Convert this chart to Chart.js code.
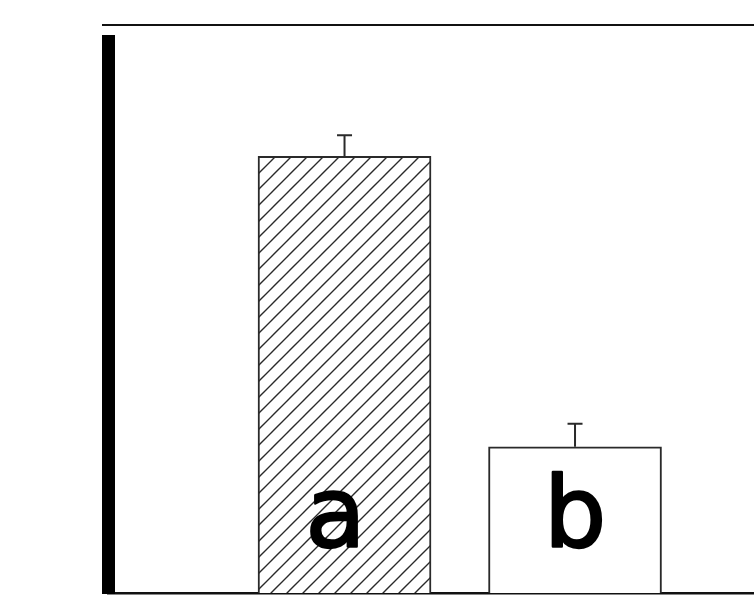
<!DOCTYPE html>
<html>
<head>
<meta charset="utf-8">
<script src="https://cdn.jsdelivr.net/npm/chart.js@4.4.0/dist/chart.umd.min.js"></script>
<style>
  html, body { margin: 0; padding: 0; background: #fff; }
  #wrap { width: 754px; height: 595px; position: relative; }
</style>
</head>
<body>
<div id="wrap"><canvas id="chart"></canvas></div>
<script>
// ================= DATA =================
const categories = ["a", "b"];
const positions = [1, 2];
const means = [79.2, 26.5];
const errors = [3.8, 4.2];

// ================= HATCH PATTERN =================
const mainCtx = document.getElementById("chart").getContext("2d");

function makeHatch(size) {
  const c = document.createElement("canvas");
  c.width = size;
  c.height = size;
  const g = c.getContext("2d");
  g.fillStyle = "#fff";
  g.fillRect(0, 0, size, size);
  g.strokeStyle = "#2a2a2a";
  g.lineWidth = 1.4;
  g.beginPath();
  g.moveTo(-1, size + 1); g.lineTo(size + 1, -1);
  g.moveTo(-size / 2 - 1, size / 2 + 1); g.lineTo(size / 2 + 1, -size / 2 - 1);
  g.moveTo(size / 2 - 1, size * 1.5 + 1); g.lineTo(size * 1.5 + 1, size / 2 - 1);
  g.stroke();
  return mainCtx.createPattern(c, "repeat");
}

const hatch = makeHatch(16);

// ================= PLUGINS =================
// top rule above the plot
const topRule = {
  id: "topRule",
  afterDraw(chart) {
    const { ctx, chartArea } = chart;
    ctx.save();
    ctx.strokeStyle = "#111";
    ctx.lineWidth = 2;
    ctx.beginPath();
    ctx.moveTo(chartArea.left - 6.5, chartArea.top - 16.5);
    ctx.lineTo(chart.width, chartArea.top - 16.5);
    ctx.stroke();
    ctx.restore();
  }
};

// error bars (upper only) + letters inside bars
const barExtras = {
  id: "barExtras",
  afterDatasetsDraw(chart) {
    const { ctx, chartArea } = chart;
    const yScale = chart.scales.y;
    const meta = chart.getDatasetMeta(0);
    ctx.save();
    meta.data.forEach((bar, i) => {
      const yTop = yScale.getPixelForValue(means[i] + errors[i]);
      ctx.strokeStyle = "#2a2a2a";
      ctx.lineWidth = 2;
      ctx.beginPath();
      ctx.moveTo(bar.x, bar.y);
      ctx.lineTo(bar.x, yTop);
      ctx.moveTo(bar.x - 7.5, yTop);
      ctx.lineTo(bar.x + 7.5, yTop);
      ctx.stroke();

      // letter, thickened a bit with a round stroke
      const tx = bar.x - (i === 0 ? 9 : 0);
      const ty = chartArea.bottom - 46;
      ctx.fillStyle = "#000";
      ctx.strokeStyle = "#000";
      ctx.lineWidth = 2.5;
      ctx.lineJoin = "round";
      ctx.font = '98px "DejaVu Sans"';
      ctx.textAlign = "center";
      ctx.textBaseline = "alphabetic";
      ctx.fillText(categories[i], tx, ty);
      ctx.strokeText(categories[i], tx, ty);
    });
    ctx.restore();
  }
};

// ================= CHART =================
new Chart(mainCtx, {
  type: "bar",
  data: {
    datasets: [{
      data: positions.map((x, i) => ({ x: x, y: means[i] })),
      backgroundColor: [hatch, "#fff"],
      borderColor: "#2a2a2a",
      borderWidth: 2,
      borderSkipped: "start",
      barThickness: 173
    }]
  },
  options: {
    responsive: true,
    maintainAspectRatio: false,
    animation: false,
    layout: { padding: { left: 108.5, right: 0, top: 41.5, bottom: 2 } },
    plugins: {
      legend: { display: false },
      tooltip: { enabled: false }
    },
    scales: {
      x: {
        type: "linear",
        offset: false,
        min: -0.024,
        max: 2.7765,
        grid: { display: false, drawTicks: false, offset: false },
        ticks: { display: false },
        border: { display: true, width: 2.5, color: "#111" }
      },
      y: {
        min: 0,
        max: 100,
        grid: { display: false, drawTicks: false },
        ticks: { display: false },
        border: { display: true, width: 13, color: "#000" }
      }
    }
  },
  plugins: [topRule, barExtras]
});
</script>
</body>
</html>
